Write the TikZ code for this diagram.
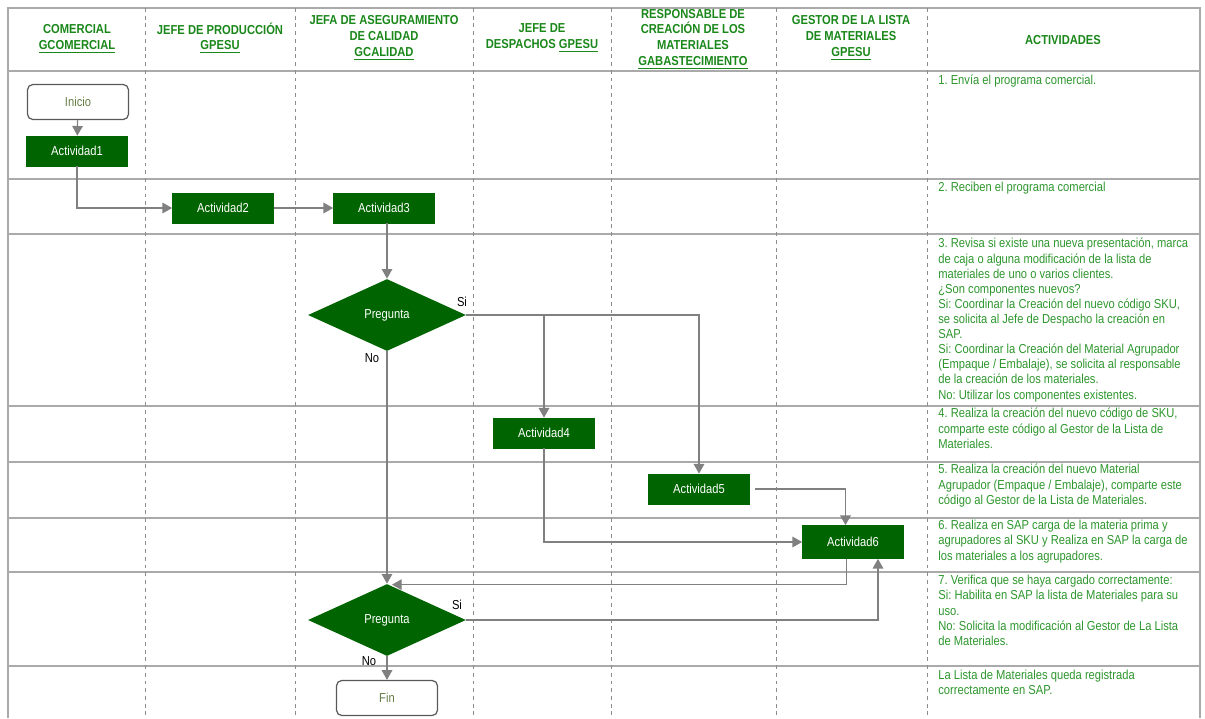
\documentclass[tikz,border=0pt]{standalone}
\usepackage{fontspec}
\setmainfont{Liberation Sans}[FakeStretch=0.86]
\usetikzlibrary{arrows.meta,shapes.geometric}
\frenchspacing
\definecolor{BoxGreen}{RGB}{0,100,0}
\definecolor{HeadGreen}{RGB}{25,135,25}
\definecolor{TextGreen}{RGB}{45,150,45}
\definecolor{LineGray}{RGB}{170,170,170}
\definecolor{DashGray}{RGB}{140,140,140}
\definecolor{ArrowGray}{RGB}{128,128,128}
\definecolor{EndText}{RGB}{100,125,70}

\begin{document}
\begin{tikzpicture}[x=0.02cm,y=-0.02cm,
      rowline/.style={LineGray,line width=0.9pt},
      colline/.style={DashGray,line width=0.5pt,dash pattern=on 2.2pt off 2.2pt},
      head/.style={align=center,text=HeadGreen,font=\fontsize{7.4pt}{9pt}\selectfont\bfseries},
      acttext/.style={anchor=north west,inner sep=0pt,align=left,text=TextGreen,font=\fontsize{7.4pt}{8.6pt}\selectfont},
      actbox/.style={draw=BoxGreen,fill=BoxGreen,text=white,minimum width=2.02cm,minimum height=0.6cm,font=\fontsize{7.4pt}{8.6pt}\selectfont},
      endbox/.style={draw=black!65,line width=0.7pt,rounded corners=3pt,text=EndText,minimum width=2.02cm,minimum height=0.7cm,font=\fontsize{7.4pt}{8.6pt}\selectfont},
      question/.style={diamond,fill=BoxGreen,text=white,inner sep=0pt,aspect=2.2,minimum width=3.16cm,minimum height=1.44cm,font=\fontsize{7.4pt}{8.6pt}\selectfont},
      lbl/.style={inner sep=0pt,font=\fontsize{7.4pt}{8.6pt}\selectfont},
      arr/.style={ArrowGray,line width=0.7pt,-{Triangle[length=5.5pt,width=6pt]}}]
      \useasboundingbox (0,0) rectangle (1205,718);
      \draw[rowline] (8,718) -- (8,8) -- (1200,8) -- (1200,718);
      \draw[rowline] (8,71) -- (1200,71);
      \draw[rowline] (8,179) -- (1200,179);
      \draw[rowline] (8,234) -- (1200,234);
      \draw[rowline] (8,406) -- (1200,406);
      \draw[rowline] (8,462) -- (1200,462);
      \draw[rowline] (8,518) -- (1200,518);
      \draw[rowline] (8,572) -- (1200,572);
      \draw[rowline] (8,666) -- (1200,666);
      \draw[colline] (145,8) -- (145,718);
      \draw[colline] (295,8) -- (295,718);
      \draw[colline] (473,8) -- (473,718);
      \draw[colline] (611,8) -- (611,718);
      \draw[colline] (776,8) -- (776,718);
      \draw[colline] (927,8) -- (927,718);

      \node[head] (hcom) at (77,39) {COMERCIAL\\\underline{GCOMERCIAL}};
      \node[head] (hprod) at (220,38) {JEFE DE PRODUCCIÓN\\\underline{GPESU}};
      \node[head] (hcal) at (384,38) {JEFA DE ASEGURAMIENTO\\DE CALIDAD\\\underline{GCALIDAD}};
      \node[head] (hdes) at (542,38) {JEFE DE\\DESPACHOS \underline{GPESU}};
      \node[head] (hmat) at (693,39) {RESPONSABLE DE\\CREACIÓN DE LOS\\MATERIALES\\\underline{GABASTECIMIENTO}};
      \node[head] (hges) at (851,38) {GESTOR DE LA LISTA\\DE MATERIALES\\\underline{GPESU}};
      \node[head] (hact) at (1063,40) {ACTIVIDADES};

      \node[acttext] (t1) at (938,75) {1. Envía el programa comercial.};
      \node[acttext] (t2) at (938,182) {2. Reciben el programa comercial};
      \node[acttext] (t3) at (938,238) {3. Revisa si existe una nueva presentación, marca\\de caja o alguna modificación de la lista de\\materiales de uno o varios clientes.\\¿Son componentes nuevos?\\Si: Coordinar la Creación del nuevo código SKU,\\se solicita al Jefe de Despacho la creación en\\SAP.\\Si: Coordinar la Creación del Material Agrupador\\(Empaque / Embalaje), se solicita al responsable\\de la creación de los materiales.\\No: Utilizar los componentes existentes.};
      \node[acttext] (t4) at (938,408) {4. Realiza la creación del nuevo código de SKU,\\comparte este código al Gestor de la Lista de\\Materiales.};
      \node[acttext] (t5) at (938,464) {5. Realiza la creación del nuevo Material\\Agrupador (Empaque / Embalaje), comparte este\\código al Gestor de la Lista de Materiales.};
      \node[acttext] (t6) at (938,520) {6. Realiza en SAP carga de la materia prima y\\agrupadores al SKU y Realiza en SAP la carga de\\los materiales a los agrupadores.};
      \node[acttext] (t7) at (938,575) {7. Verifica que se haya cargado correctamente:\\Si: Habilita en SAP la lista de Materiales para su\\uso.\\No: Solicita la modificación al Gestor de La Lista\\de Materiales.};
      \node[acttext] (t8) at (938,670) {La Lista de Materiales queda registrada\\correctamente en SAP.};

      \node[endbox] (inicio) at (78,102) {Inicio};
      \node[actbox] (act1) at (77,151) {Actividad1};
      \node[actbox] (act2) at (223,208) {Actividad2};
      \node[actbox] (act3) at (384,208) {Actividad3};
      \node[question] (preg1) at (387,315) {Pregunta};
      \node[actbox] (act4) at (544,433) {Actividad4};
      \node[actbox] (act5) at (699,489) {Actividad5};
      \node[actbox,minimum height=0.66cm] (act6) at (853,542) {Actividad6};
      \node[question] (preg2) at (387,620) {Pregunta};
      \node[endbox] (fin) at (387,698) {Fin};

      \node[lbl] (si1) at (462,302) {Si};
      \node[lbl] (no1) at (372,358) {No};
      \node[lbl] (si2) at (457,605) {Si};
      \node[lbl] (no2) at (369,661) {No};

      \draw[arr] (inicio) -- (act1);
      \draw[arr] (act1.south) |- (act2.west);
      \draw[arr] (act2) -- (act3);
      \draw[arr] (preg1.north |- act3.south) -- (preg1.north);
      \draw[arr] (preg1.east) -| (act5.north);
      \draw[arr] (act4.north |- preg1.east) -- (act4.north);
      \draw[arr] (preg1.south) -- (preg2.north);
      \draw[arr] (act4.south) |- (act6.west);
      \draw[arr] ([xshift=0.1cm]act5.east) -| ([xshift=-0.15cm]act6.north);
      \draw[arr] ([xshift=-0.13cm]act6.south) |- ([xshift=0.1cm,yshift=-0.02cm]preg2.north);
      \draw[arr] (preg2.east) -| ([xshift=0.5cm]act6.south);
      \draw[arr] (preg2.south) -- (fin.north);
    \end{tikzpicture}
\end{document}
